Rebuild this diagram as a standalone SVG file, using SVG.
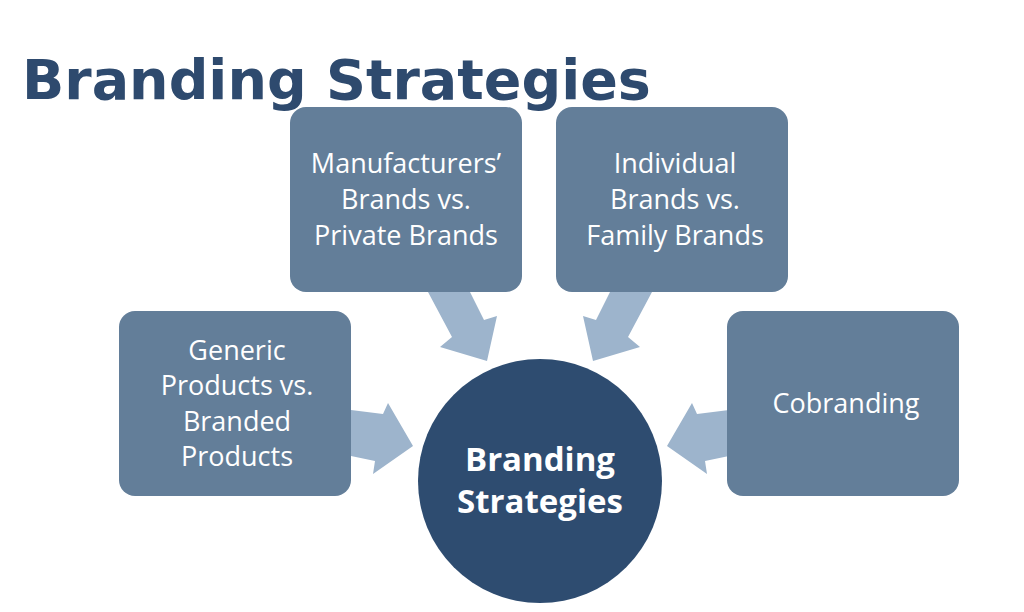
<svg xmlns="http://www.w3.org/2000/svg" width="1024" height="612" viewBox="0 0 1024 612">
<style>
.box{fill:#637E99}
.arr{fill:#9DB4CC}
.t{font-family:"Open Sans","Liberation Sans",sans-serif;font-size:27px;fill:#fff;text-anchor:middle}
.c{font-family:"Open Sans","Liberation Sans",sans-serif;font-size:33px;font-weight:bold;fill:#fff;text-anchor:middle}
</style>
<rect width="1024" height="612" fill="#fff"/>
<text x="22" y="99" font-family="DejaVu Sans,sans-serif" font-weight="bold" font-size="55.5" fill="#2E4A6E">Branding Strategies</text>
<g id="connectors">
<polygon class="arr" points="351,410 383,414 388,403 413,446 373,474 375,461 351,456"/>
<polygon class="arr" points="729,410 697,414 692,403 667,446 707,474 705,461 729,456"/>
<polygon class="arr" points="428,292 470,292 484,320 497,316 487,361 440,347 452,337"/>
<polygon class="arr" points="652,292 610,292 596,320 583,316 593,361 640,347 628,337"/>
</g>
<g id="n1"><rect class="box" x="290" y="107" width="232" height="185" rx="16"/>
<text class="t" x="406" y="173">Manufacturers’</text><text class="t" x="406" y="209">Brands vs.</text><text class="t" x="406" y="245">Private Brands</text></g>
<g id="n2"><rect class="box" x="556" y="107" width="232" height="185" rx="16"/>
<text class="t" x="675" y="173">Individual</text><text class="t" x="675" y="209">Brands vs.</text><text class="t" x="675" y="245">Family Brands</text></g>
<g id="n3"><rect class="box" x="119" y="311" width="232" height="185" rx="16"/>
<text class="t" x="237" y="360">Generic</text><text class="t" x="237" y="395">Products vs.</text><text class="t" x="237" y="431">Branded</text><text class="t" x="237" y="466">Products</text></g>
<g id="n4"><rect class="box" x="727" y="311" width="232" height="185" rx="16"/>
<text class="t" x="846" y="413">Cobranding</text></g>
<g id="center"><circle cx="540" cy="481" r="122" fill="#2E4C70"/>
<text class="c" x="540" y="471">Branding</text><text class="c" x="540" y="513">Strategies</text></g>
</svg>
